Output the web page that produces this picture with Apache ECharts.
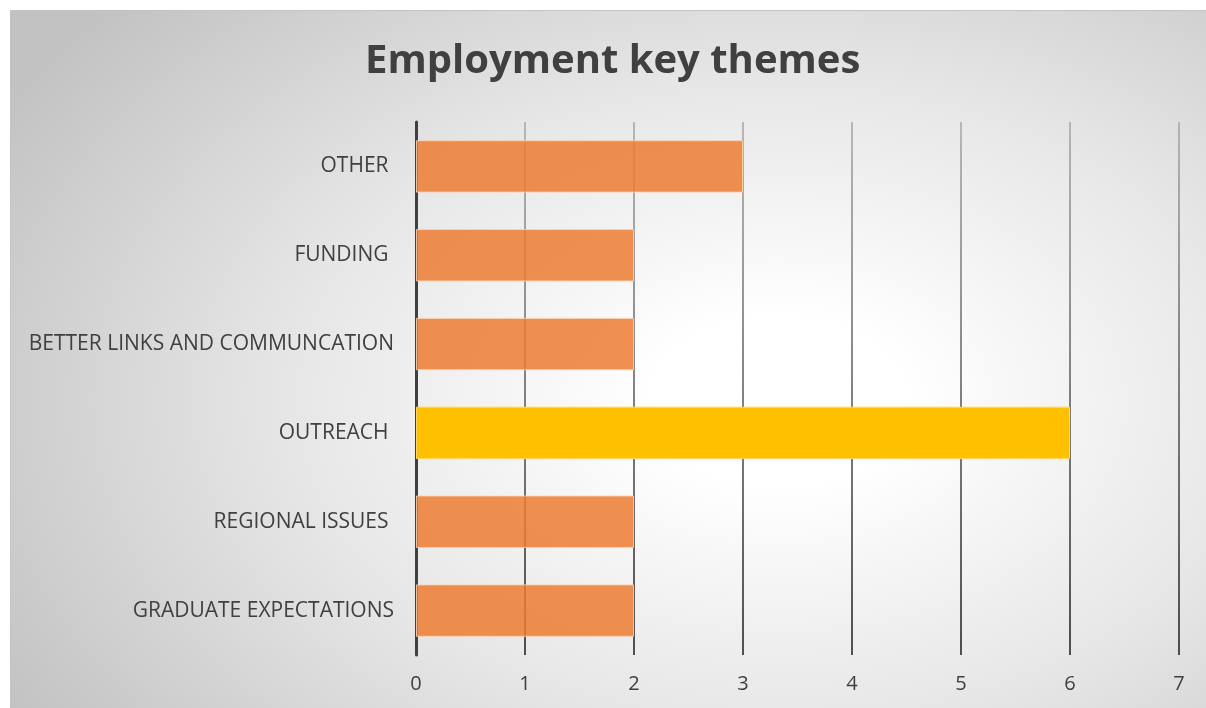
<!DOCTYPE html>
<html>
<head>
<meta charset="utf-8">
<script src="https://cdn.jsdelivr.net/npm/echarts@6/dist/echarts.min.js"></script>
<style>
  html, body { margin: 0; padding: 0; background: #ffffff; }
  #frame {
    position: absolute; left: 10px; top: 10px; width: 1200px; height: 700px;
    box-sizing: border-box; border: 1px solid #c4c4c4;
    background: radial-gradient(ellipse 75% 85% at 64% 56%, #ffffff 0%, #ffffff 14%, #e6e6e6 55%, #c2c2c2 100%);
  }
  #chart { position: absolute; left: 0; top: 0; width: 1206px; height: 708px; }
</style>
</head>
<body>
<div id="frame"></div>
<div id="chart"></div>
<script>
// Themes listed bottom-to-top, as the category axis draws them
const themes = [
  'GRADUATE EXPECTATIONS',
  'REGIONAL ISSUES ',
  'OUTREACH ',
  'BETTER LINKS AND COMMUNCATION',
  'FUNDING ',
  'OTHER '
];
const mentions = [2, 2, 6, 2, 2, 3];
const highlighted = 'OUTREACH ';
const xTicks = [0, 1, 2, 3, 4, 5, 6, 7];

const FONT = '"Open Sans", Lato, sans-serif';

const chart = echarts.init(document.getElementById('chart'), null, { renderer: 'canvas' });

const gridLineGradient = new echarts.graphic.LinearGradient(0, 122, 0, 655, [
  { offset: 0, color: '#a6a6a6' },
  { offset: 0.5, color: '#595959' },
  { offset: 1, color: '#1a1a1a' }
], true);

chart.setOption({
  backgroundColor: 'transparent',
  title: {
    text: 'Employment key themes',
    left: 360,
    top: 37,
    textStyle: { fontFamily: FONT, fontSize: 40, fontWeight: 'bold', color: '#404040' }
  },
  grid: { left: 416, right: 27, top: 122, bottom: 53, containLabel: false },
  xAxis: {
    type: 'value',
    min: xTicks[0],
    max: xTicks[xTicks.length - 1],
    interval: 1,
    axisLine: { show: false },
    axisTick: { show: false },
    axisLabel: {
      margin: 19,
      fontFamily: FONT, fontSize: 20, color: '#404040',
      formatter: v => (xTicks.includes(v) ? String(v) : '')
    },
    splitLine: { show: true, lineStyle: { color: gridLineGradient, width: 1.5 } }
  },
  yAxis: {
    type: 'category',
    data: themes,
    axisLine: { show: true, lineStyle: { color: '#404040', width: 3 } },
    axisTick: { show: false },
    axisLabel: { margin: 22, fontFamily: FONT, fontSize: 21, color: '#404040', padding: [3, 0, 0, 0] }
  },
  series: [{
    type: 'bar',
    barCategoryGap: '41%',
    data: mentions.map((v, i) => ({
      value: v,
      itemStyle: themes[i] === highlighted
        ? { color: '#FFC000', opacity: 1, borderColor: '#ffd75e', borderWidth: 1 }
        : { color: '#ED7D31', opacity: 0.85, borderColor: '#fbd2b5', borderWidth: 1 }
    })),
    z: 3
  }]
});
</script>
</body>
</html>
